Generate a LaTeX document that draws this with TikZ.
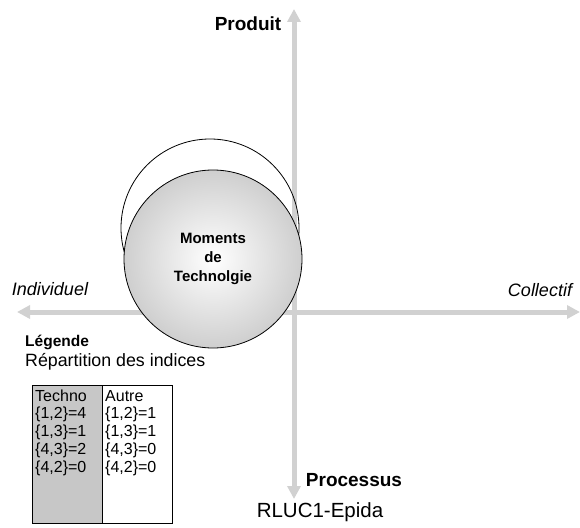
\documentclass[tikz,border=0pt]{standalone}
\usepackage{fontspec}
\setmainfont{Liberation Sans}
\usetikzlibrary{arrows.meta}
\begin{document}
\begin{tikzpicture}[x=1pt,y=-1pt,
  axis/.style={draw=black!18,line width=5pt,{Triangle[width=13pt,length=13pt]}-{Triangle[width=13pt,length=13pt]}},
  axislabel/.style={font=\fontsize{19}{22}\selectfont\bfseries,inner sep=0pt},
  sidelabel/.style={font=\fontsize{18}{21}\selectfont\itshape,inner sep=0pt},
  celltext/.style={font=\fontsize{16}{18}\selectfont,inner sep=0pt,anchor=west}]
\useasboundingbox (0,0) rectangle (580,527);
% axes
\coordinate (top) at (294,9);
\coordinate (bottom) at (294,499);
\coordinate (left) at (17,312);
\coordinate (right) at (580,312);
\draw[axis] (bottom) -- (top);
\draw[axis] (left) -- (right);
% circles
\node[draw=black,line width=0.8pt,circle,minimum size=178pt,inner sep=0pt] (outline) at (210,228) {};
\node[draw=black,line width=0.8pt,circle,minimum size=178pt,inner sep=0pt,
  inner color=white,outer color=black!19] (moments) at (213,259) {};
\node[font=\fontsize{15}{19}\selectfont\bfseries,align=center,inner sep=0pt] (mtext) at (213,259) {Moments\\de\\Technolgie};
% labels
\node[axislabel] (produit) at (248,24) {Produit};
\node[axislabel] (processus) at (354,480) {Processus};
\node[font=\fontsize{20.5}{23}\selectfont,inner sep=0pt] (rluc) at (320,512) {RLUC1-Epida};
\node[sidelabel] (indiv) at (50,289) {Individuel};
\node[sidelabel] (coll) at (540,290) {Collectif};
\node[font=\fontsize{15.5}{18}\selectfont\bfseries,inner sep=0pt,anchor=west] (legende) at (25,342) {Légende};
\node[font=\fontsize{17.8}{20}\selectfont,inner sep=0pt,anchor=west] (repart) at (25,362) {Répartition des indices};
% table
\fill[black!22] (32,385) rectangle (102,523);
\draw[line width=0.8pt] (32,385) rectangle (172,523);
\draw[line width=0.8pt] (102,385) -- (102,523);
\node[celltext] (t0) at (35,396) {Techno};
\node[celltext] (t1) at (35,414.5) {\{1,2\}=4};
\node[celltext] (t2) at (35,432.5) {\{1,3\}=1};
\node[celltext] (t3) at (35,450.5) {\{4,3\}=2};
\node[celltext] (t4) at (35,468.5) {\{4,2\}=0};
\node[celltext] (a0) at (105,396) {Autre};
\node[celltext] (a1) at (105,414.5) {\{1,2\}=1};
\node[celltext] (a2) at (105,432.5) {\{1,3\}=1};
\node[celltext] (a3) at (105,450.5) {\{4,3\}=0};
\node[celltext] (a4) at (105,468.5) {\{4,2\}=0};
\end{tikzpicture}
\end{document}
